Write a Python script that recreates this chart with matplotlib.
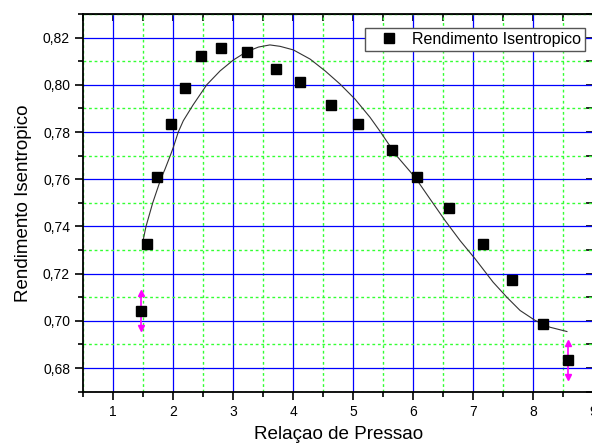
import numpy as np
import matplotlib.pyplot as plt
from matplotlib.ticker import MultipleLocator, FuncFormatter

plt.rcParams['font.family'] = ['Liberation Sans', 'DejaVu Sans']

# measured points
razao = [1.46, 1.556, 1.733, 1.957, 2.20, 2.46, 2.79, 3.23, 3.71, 4.11,
         4.62, 5.07, 5.645, 6.056, 6.59, 7.17, 7.645, 8.167, 8.573]
rendimento = [0.7043, 0.7324, 0.7608, 0.7836, 0.7988, 0.8121, 0.8158, 0.8141,
              0.8065, 0.8010, 0.7914, 0.7836, 0.7724, 0.7611, 0.7478, 0.7326,
              0.7175, 0.6988, 0.6835]
erro = [0.0075, 0, 0, 0, 0, 0, 0, 0, 0, 0,
        0, 0, 0, 0, 0, 0, 0, 0, 0.0072]

# fitted curve
ajuste_x = [1.49, 1.545, 1.657, 1.79, 1.862, 1.957, 2.0, 2.083, 2.167, 2.33,
            2.557, 2.78, 3.0, 3.22, 3.42, 3.61, 3.78, 4.0, 4.28, 4.53,
            4.78, 5.03, 5.28, 5.44, 5.72, 6.03, 6.28, 6.53, 6.78, 7.03,
            7.33, 7.56, 7.78, 8.03, 8.28, 8.56]
ajuste_y = [0.7333, 0.7400, 0.7500, 0.7600, 0.7643, 0.7705, 0.7735, 0.7800, 0.7848, 0.7915,
            0.8000, 0.8059, 0.8105, 0.8140, 0.8160, 0.8169, 0.8163, 0.8148, 0.8109, 0.8059,
            0.8003, 0.7939, 0.7862, 0.7805, 0.7700, 0.7608, 0.7516, 0.7425, 0.7340, 0.7263,
            0.7164, 0.7100, 0.7044, 0.7002, 0.6973, 0.6955]

fig = plt.figure(figsize=(5.92, 4.46), dpi=100)
ax = fig.add_axes([83.3 / 592, 1 - 391.7 / 446, (593.3 - 83.3) / 592, (391.7 - 14) / 446])

ax.set_xlim(0.5, 9.0)
ax.set_ylim(0.67, 0.83)

# grid
ax.xaxis.set_major_locator(MultipleLocator(1))
ax.xaxis.set_minor_locator(MultipleLocator(0.5))
ax.yaxis.set_major_locator(MultipleLocator(0.02))
ax.yaxis.set_minor_locator(MultipleLocator(0.01))
ax.grid(which='major', color='#0000ff', linewidth=0.9, linestyle='-')
ax.grid(which='minor', color='#33ff33', linewidth=1.0, linestyle=(0, (2, 2)))
ax.set_axisbelow(True)

# fit line
ax.plot(ajuste_x, ajuste_y, color='#333333', linewidth=0.8, zorder=3)

# error bars with arrow caps
ex = [x for x, e in zip(razao, erro) if e > 0]
ey = [y for y, e in zip(rendimento, erro) if e > 0]
ee = [e for e in erro if e > 0]
ax.errorbar(ex, ey, yerr=ee, fmt='none', ecolor='#ff00ff', elinewidth=1.2, zorder=4)
ax.plot(ex, np.array(ey) + np.array(ee), '^', color='#ff00ff', markersize=4, zorder=4)
ax.plot(ex, np.array(ey) - np.array(ee), 'v', color='#ff00ff', markersize=4, zorder=4)

# points
ax.plot(razao, rendimento, 's', color='black', markersize=7, zorder=5,
        label='Rendimento Isentropico')

ax.yaxis.set_major_formatter(FuncFormatter(lambda v, p: f'{v:.2f}'.replace('.', ',')))

for s in ax.spines.values():
    s.set_linewidth(1.3)
ax.tick_params(which='major', direction='out', length=6, width=1.2, labelsize=10)
ax.tick_params(which='minor', direction='out', length=3.5, width=1.2)

# inward ticks on top and right
top = ax.secondary_xaxis('top')
top.xaxis.set_major_locator(MultipleLocator(1))
top.xaxis.set_minor_locator(MultipleLocator(0.5))
top.tick_params(which='both', direction='in', length=5, width=1.2, labeltop=False)
right = ax.secondary_yaxis('right')
right.yaxis.set_major_locator(MultipleLocator(0.02))
right.yaxis.set_minor_locator(MultipleLocator(0.01))
right.tick_params(which='both', direction='in', length=5, width=1.2, labelright=False)

ax.set_xlabel('Relaçao de Pressao', fontsize=13.6, labelpad=5)
ax.set_ylabel('Rendimento Isentropico', fontsize=13.5, labelpad=8)

ax.legend(loc='upper right', bbox_to_anchor=(0.9837, 0.963), fontsize=11.5,
          frameon=True, fancybox=False, edgecolor='#555555', framealpha=1,
          handlelength=2.5, handletextpad=0.2, borderpad=0.25, borderaxespad=0)

fig.savefig('out.png', dpi=100)
